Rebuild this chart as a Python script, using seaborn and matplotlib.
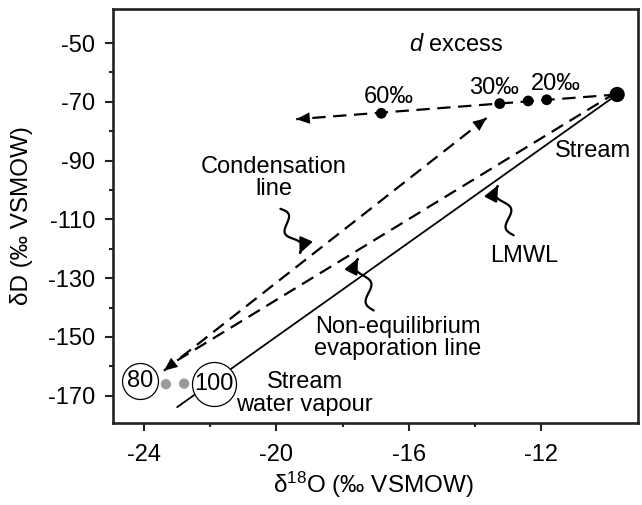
import numpy as np
import matplotlib
matplotlib.use("Agg")
import matplotlib.pyplot as plt
import seaborn as sns
from matplotlib.patches import FancyArrowPatch
from matplotlib.path import Path

# ---------------- data ----------------
stream_x = [-9.7]
stream_y = [-67.5]
lmwl_x = [-23.0, -9.7]
lmwl_y = [-173.9, -67.5]
evap_x = [-23.0, -9.9]
evap_y = [-158.0, -68.0]
cond_x = [-23.4, -13.65]
cond_y = [-161.5, -75.5]
dex_line_x = [-9.7, -19.4]
dex_line_y = [-67.5, -75.9]
dex_x = [-11.83, -12.39, -13.25, -16.83]
dex_y = [-69.3, -69.7, -70.6, -73.9]
dex_labels = ["20‰", "30‰", "60‰"]
dex_label_x = [-11.55, -13.42, -16.6]
dex_label_y = [-63.8, -65.3, -68.2]
vap_x = [-23.34, -22.79]
vap_y = [-166.1, -165.9]
circle_labels = ["80", "100"]
circle_x = [-24.11, -21.88]
circle_y = [-165.1, -166.1]
circle_sizes = [671, 1004]
text_labels = ["d excess", "Stream", "Condensation\nline", "LMWL",
               "Non-equilibrium\nevaporation line", "Stream\nwater vapour"]
text_x = [-14.58, -10.43, -20.09, -12.52, -16.33, -19.15]
text_y = [-50.6, -86.9, -96.0, -122.5, -150.3, -169.3]
curly_start = [(-19.88, -106.4), (-12.83, -115.4), (-17.06, -141.0)]
curly_end = [(-19.30, -121.7), (-13.30, -98.4), (-17.53, -123.2)]
x_ticks = [-24, -20, -16, -12]
x_minor = [-22, -18, -14]
y_ticks = [-50, -70, -90, -110, -130, -150, -170]
y_minor = [-60, -80, -100, -120, -140, -160]

# ---------------- style ----------------
sns.set_style("white")
plt.rcParams["font.family"] = ["Liberation Sans", "DejaVu Sans"]
plt.rcParams["mathtext.fontset"] = "custom"
plt.rcParams["mathtext.rm"] = "Liberation Sans"
plt.rcParams["mathtext.it"] = "Liberation Sans:italic"
plt.rcParams["axes.unicode_minus"] = False
for k in ["text.color", "axes.labelcolor", "xtick.color", "ytick.color"]:
    plt.rcParams[k] = "black"

FS = 17
fig = plt.figure(figsize=(6.42, 5.05), dpi=100)
ax = fig.add_axes([0.176, 0.1624, 0.8178, 0.8198])
ax.set_xlim(-24.94, -9.07)
ax.set_ylim(-179.3, -38.4)

dash = (0, (6.0, 3.4))
# LMWL solid
sns.lineplot(x=lmwl_x, y=lmwl_y, color="black", lw=1.3, sort=False, ax=ax, zorder=2)
# evaporation dashed
sns.lineplot(x=evap_x, y=evap_y, color="black", lw=1.6, linestyle=dash, sort=False, ax=ax, zorder=2)
# condensation dashed
sns.lineplot(x=cond_x, y=cond_y, color="black", lw=1.6, linestyle=dash, sort=False, ax=ax, zorder=2)
# d excess dashed
sns.lineplot(x=dex_line_x, y=dex_line_y, color="black", lw=1.6, linestyle=dash, sort=False, ax=ax, zorder=2)

def head(tip, frm):
    ax.annotate("", xy=tip, xytext=frm,
                arrowprops=dict(arrowstyle="-|>,head_length=0.75,head_width=0.32",
                                color="black", lw=0, mutation_scale=13,
                                shrinkA=0, shrinkB=0), zorder=3)

head((cond_x[1], cond_y[1]), (cond_x[0], cond_y[0]))
head((cond_x[0], cond_y[0]), (cond_x[1], cond_y[1]))
head((dex_line_x[1], dex_line_y[1]), (dex_line_x[0], dex_line_y[0]))

# points
sns.scatterplot(x=dex_x, y=dex_y, color="black", s=60, edgecolor="none", ax=ax, zorder=4)
sns.scatterplot(x=stream_x, y=stream_y, color="black", s=120, edgecolor="none", ax=ax, zorder=4)
sns.scatterplot(x=vap_x, y=vap_y, color="#9a9a9a", s=55, edgecolor="none", ax=ax, zorder=4)
for lab, cx, cy, s in zip(circle_labels, circle_x, circle_y, circle_sizes):
    ax.scatter([cx], [cy], s=s, facecolor="white", edgecolor="black", lw=0.9, zorder=5)
    ax.text(cx, cy, lab, ha="center", va="center", fontsize=FS, zorder=6)

for lab, tx, ty in zip(dex_labels, dex_label_x, dex_label_y):
    ax.text(tx, ty, lab, ha="center", va="center", fontsize=FS)

for lab, tx, ty in zip(text_labels, text_x, text_y):
    if lab.startswith("d excess"):
        lab = "$d$ excess"
    ax.text(tx, ty, lab, ha="center", va="center", fontsize=FS,
            multialignment="center", linespacing=1.02)

# wavy arrows
def wavy(start, end, amp=5.5, periods=1.5):
    p0 = ax.transData.transform(start)
    p1 = ax.transData.transform(end)
    d = p1 - p0
    L = np.hypot(*d)
    u = d / L
    n = np.array([-u[1], u[0]])
    t = np.linspace(0, 1, 80)
    off = amp * np.sin(2 * np.pi * periods * t)
    pts = p0[None, :] + t[:, None] * d[None, :] + off[:, None] * n[None, :]
    pts_d = ax.transData.inverted().transform(pts)
    arr = FancyArrowPatch(path=Path(pts_d), arrowstyle="-|>,head_length=0.7,head_width=0.32",
                          mutation_scale=13, lw=1.6, color="black", zorder=3)
    ax.add_patch(arr)

for s0, e0 in zip(curly_start, curly_end):
    wavy(s0, e0)

# axes
ax.set_xticks(x_ticks)
ax.set_xticklabels([str(v) for v in x_ticks])
ax.set_xticks(x_minor, minor=True)
ax.set_yticks(y_ticks)
ax.set_yticklabels([str(v) for v in y_ticks])
ax.set_yticks(y_minor, minor=True)
ax.tick_params(which="major", direction="out", length=6, width=1.5, labelsize=FS,
               color="#222222", labelcolor="black", bottom=True, left=True)
ax.tick_params(axis="x", which="major", pad=9)
ax.tick_params(axis="y", which="major", pad=7)
ax.tick_params(which="minor", direction="out", length=3, width=1.5, color="#222222",
               bottom=True, left=True)
for sp in ax.spines.values():
    sp.set_visible(True)
    sp.set_linewidth(1.9)
    sp.set_color("#222222")

ax.set_xlabel("δ$^{18}$O (‰ VSMOW)", fontsize=17.5, color="black")
ax.set_ylabel("δD (‰ VSMOW)", fontsize=17.5, color="black")
ax.xaxis.set_label_coords(0.495, -0.113)
ax.yaxis.set_label_coords(-0.152, 0.5)

fig.savefig("out.png", dpi=100)
